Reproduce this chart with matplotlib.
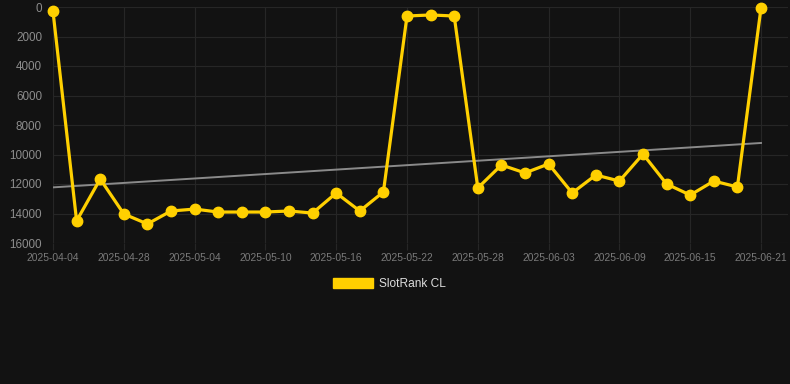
import matplotlib
matplotlib.use("Agg")
import matplotlib.pyplot as plt
import matplotlib.patches as mpatches
import numpy as np

plt.rcParams['font.family'] = ['Liberation Sans', 'DejaVu Sans']

dates = ["2025-04-04", "2025-04-12", "2025-04-20", "2025-04-28", "2025-04-30",
         "2025-05-02", "2025-05-04", "2025-05-06", "2025-05-08", "2025-05-10",
         "2025-05-12", "2025-05-14", "2025-05-16", "2025-05-18", "2025-05-20",
         "2025-05-22", "2025-05-24", "2025-05-26", "2025-05-28", "2025-05-30",
         "2025-06-01", "2025-06-03", "2025-06-05", "2025-06-07", "2025-06-09",
         "2025-06-11", "2025-06-13", "2025-06-15", "2025-06-17", "2025-06-19",
         "2025-06-21"]
ranks = [300, 14500, 11660, 14030, 14710, 13830, 13700, 13900, 13900, 13900,
         13830, 13970, 12610, 13830, 12540, 610, 540, 610, 12270, 10710,
         11250, 10640, 12610, 11390, 11800, 9970, 12000, 12750, 11800, 12200,
         70]
series_name = "SlotRank CL"
y_ticks = [0, 2000, 4000, 6000, 8000, 10000, 12000, 14000, 16000]

BG = "#121212"
YEL = "#FFD000"

fig = plt.figure(figsize=(7.9, 3.84), dpi=100, facecolor=BG)
ax = fig.add_axes([53/790, 1-243/384, (788-53)/790, (243-7)/384], facecolor=BG)

x = np.arange(len(dates))
coef = np.polyfit(x, ranks, 1)
ax.plot(x, np.polyval(coef, x), color="#8a8a8a", lw=1.4, zorder=2)
ax.plot(x, ranks, color=YEL, lw=2.3, marker="o", markersize=7.5,
        markerfacecolor=YEL, markeredgecolor=YEL, zorder=3, clip_on=False)

ax.set_ylim(16000, 0)
ax.set_xlim(0, 30 + 27/23.6)
ax.set_yticks(y_ticks)
ax.set_yticklabels([str(v) for v in y_ticks])
tick_idx = list(range(0, len(dates), 3))
ax.set_xticks(tick_idx)
ax.set_xticklabels([dates[i] for i in tick_idx])

ax.grid(True, color="#262626", lw=0.8, zorder=0)
for s in ax.spines.values():
    s.set_visible(False)
ax.tick_params(axis='y', length=0, pad=8, labelsize=8.4, labelcolor="#8c8c8c")
ax.tick_params(axis='x', length=5, width=0.8, color="#262626", pad=2,
               labelsize=7.4, labelcolor="#7a7a7a")

handle = mpatches.Patch(facecolor=YEL, edgecolor=YEL, label=series_name)
leg = fig.legend(handles=[handle], loc="center", bbox_to_anchor=(389.5/790, 1-284/384),
                 frameon=False, fontsize=8.6, handlelength=3.35, handleheight=0.9,
                 handletextpad=0.5, labelcolor="#dddddd")

fig.savefig("out.png", dpi=100, facecolor=BG)
